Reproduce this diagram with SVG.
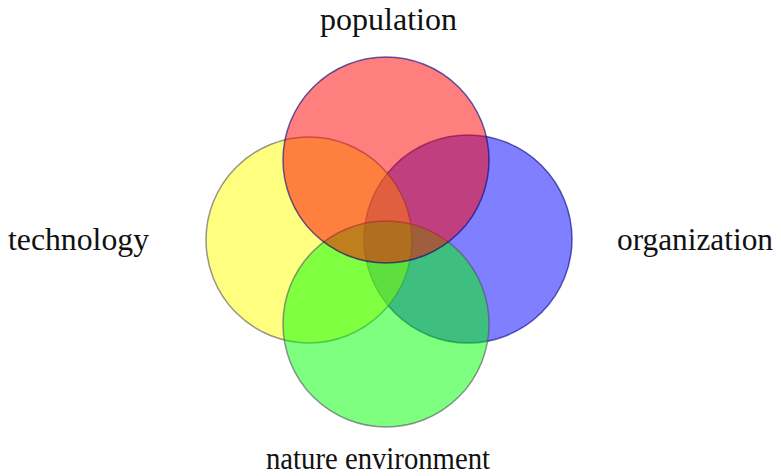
<svg xmlns="http://www.w3.org/2000/svg" width="781" height="476" viewBox="0 0 781 476">
<style>
.c{fill-opacity:0.5;stroke-width:1.5;stroke-opacity:0.6}
.lbl{font-family:"Liberation Serif","DejaVu Serif",serif;font-size:31px;fill:#111}
</style>
<rect width="781" height="476" fill="#ffffff"/>
<g id="organization">
<circle class="c" cx="468" cy="239" r="104" fill="#0000ff" stroke="#000080"/>
<text class="lbl" x="617" y="250" textLength="156" lengthAdjust="spacingAndGlyphs">organization</text>
</g>
<g id="technology">
<circle class="c" cx="309" cy="240" r="103" fill="#ffff00" stroke="#505060"/>
<text class="lbl" x="8" y="250" textLength="141" lengthAdjust="spacingAndGlyphs">technology</text>
</g>
<g id="nature-environment">
<circle class="c" cx="386" cy="324" r="103" fill="#00ff00" stroke="#505060"/>
<text class="lbl" x="266" y="469" textLength="224" lengthAdjust="spacingAndGlyphs">nature environment</text>
</g>
<g id="population">
<circle class="c" cx="386" cy="160" r="103" fill="#ff0000" stroke="#000080"/>
<text class="lbl" x="320" y="30" textLength="137" lengthAdjust="spacingAndGlyphs">population</text>
</g>
<g id="connectors"></g>
</svg>
